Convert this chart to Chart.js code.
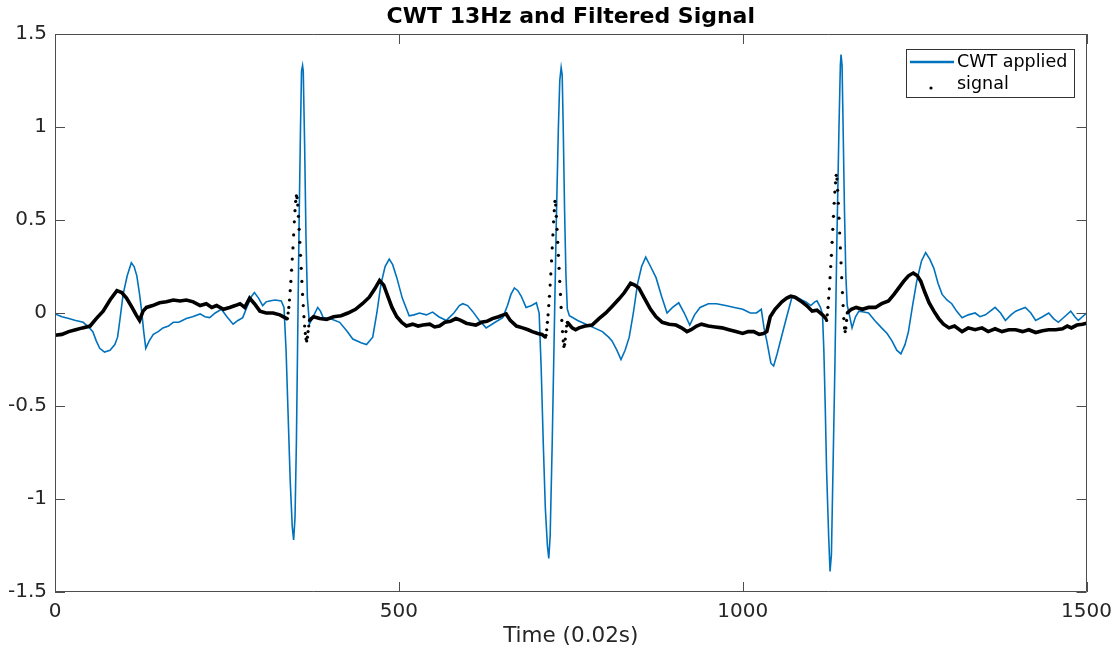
<!DOCTYPE html>
<html>
<head>
<meta charset="utf-8">
<script src="https://cdn.jsdelivr.net/npm/chart.js@4.4.1/dist/chart.umd.min.js"></script>
<style>
html,body{margin:0;padding:0;background:#fff;}
#c{display:block;}
</style>
</head>
<body>
<canvas id="c" width="1120" height="654"></canvas>
<script>
// ---- Data ----
const chartTitle = "CWT 13Hz and Filtered Signal";
const xTitle = "Time (0.02s)";
const xTicks = [0, 500, 1000, 1500];
const yTicks = [-1.5, -1, -0.5, 0, 0.5, 1, 1.5];

// CWT applied (time index, value)
const cwtT = [0,10,20,30,41,50,55,60,65,72,80,87,91,95,99,105,111,115,119,123,126,129,132,137,143,150,157,165,172,180,191,200,211,218,225,233,242,250,259,266,273,280,286,290,296,302,307,312,320,329,333,336,339,342,345,347,349,351,353,355,357,358.5,360,361,363,365,367,370,374,378,382,386,390,400,414,425,433,445,453,462,468,474,480,486,491,497,505,515,522,530,540,549,558,569,580,588,593,600,607,617,627,640,651,658,663,668,673,678,685,693,700,704,707,710,713,716,718,720,723,726,729,732,734,736,737.5,739,741,743,745,748,760,772,784,796,805,810,817,823,829,835,841,847,853,859,866,874,882,890,898,907,915,923,930,938,950,962,975,988,1000,1011,1020,1027,1031,1035,1041,1045,1050,1057,1064,1072,1079,1086,1092,1099,1105,1108,1113,1116,1118,1120,1122,1125,1127,1129,1131,1134,1137,1140,1142,1143,1144.5,1146,1148,1150,1152,1154,1159,1164,1169,1176,1183,1192,1202,1210,1217,1224,1230,1236,1241,1247,1253,1260,1266,1272,1278,1284,1290,1297,1304,1311,1319,1328,1338,1345,1353,1360,1367,1375,1382,1390,1397,1404,1411,1419,1426,1436,1445,1452,1459,1468,1477,1483,1488,1494,1500];
const cwtV = [-0.005,-0.02,-0.03,-0.04,-0.05,-0.08,-0.10,-0.15,-0.19,-0.21,-0.20,-0.17,-0.13,-0.02,0.10,0.20,0.27,0.25,0.20,0.10,0.01,-0.10,-0.19,-0.15,-0.115,-0.10,-0.08,-0.07,-0.05,-0.05,-0.03,-0.02,-0.005,-0.02,-0.025,0.0,0.02,-0.02,-0.06,-0.04,-0.025,0.04,0.09,0.11,0.08,0.04,0.06,0.065,0.07,0.065,0.03,-0.2,-0.55,-0.9,-1.15,-1.22,-1.10,-0.7,-0.1,0.5,1.0,1.30,1.33,1.30,0.9,0.4,0.08,-0.06,-0.03,0.0,0.03,0.01,-0.025,-0.03,-0.05,-0.10,-0.14,-0.16,-0.17,-0.13,0.0,0.155,0.25,0.29,0.26,0.19,0.08,-0.015,-0.01,0.0,-0.01,0.005,-0.02,-0.04,0.0,0.04,0.05,0.04,0.01,-0.04,-0.08,-0.05,-0.025,0.04,0.10,0.135,0.12,0.09,0.03,0.04,0.055,0.0,-0.3,-0.7,-1.05,-1.25,-1.32,-1.2,-0.7,-0.1,0.5,1.0,1.25,1.32,1.28,1.0,0.55,0.2,0.02,-0.015,-0.04,-0.06,-0.08,-0.1,-0.13,-0.15,-0.2,-0.25,-0.2,-0.13,0.0,0.155,0.25,0.30,0.25,0.19,0.09,0.0,0.03,0.055,0.0,-0.065,-0.01,0.03,0.05,0.05,0.04,0.03,0.02,0.0,0.0,0.02,-0.08,-0.15,-0.27,-0.285,-0.22,-0.12,-0.02,0.09,0.085,0.07,0.06,0.04,0.06,0.065,0.03,-0.005,-0.2,-0.5,-0.85,-1.2,-1.39,-1.3,-0.9,-0.3,0.4,1.0,1.33,1.39,1.33,1.0,0.55,0.2,0.04,0.01,-0.08,-0.02,0.01,0.005,0.0,-0.04,-0.08,-0.11,-0.15,-0.2,-0.22,-0.17,-0.1,0.04,0.17,0.28,0.325,0.29,0.24,0.16,0.10,0.07,0.05,0.01,-0.025,-0.01,0.0,-0.02,-0.01,0.01,0.03,0.0,-0.04,-0.01,0.01,0.02,0.03,0.0,-0.04,-0.02,0.0,-0.03,-0.05,-0.02,0.01,-0.02,-0.04,-0.02,0.0];

// signal: slow parts (time index, value)
const sigT = [0,10,20,30,40,51,60,70,80,90,97,104,112,118,123,128,133,142,152,162,172,182,191,201,211,220,228,235,245,254,262,269,276,283,290,298,307,317,327,337,
  376,385,395,405,416,426,437,447,457,465,472,478,484,490,497,504,511,520,528,535,545,552,559,567,575,583,590,598,605,612,620,628,636,645,652,656,662,671,680,688,694,702,708,
  752,757,762,771,781,791,801,810,820,828,837,843,849,857,866,874,883,893,903,911,919,925,933,940,950,960,970,980,990,1000,1008,1016,1024,1030,1035,1040,1047,1057,1064,1070,1076,1086,1093,1101,1108,1116,
  1158,1165,1174,1183,1193,1202,1212,1220,1227,1234,1241,1248,1254,1259,1265,1271,1278,1285,1292,1300,1308,1319,1328,1338,1348,1357,1367,1377,1387,1397,1407,1416,1426,1436,1445,1455,1465,1472,1478,1486,1494,1500];
const sigV = [-0.12,-0.115,-0.10,-0.09,-0.08,-0.07,-0.03,0.01,0.07,0.12,0.11,0.08,0.03,-0.01,-0.04,0.01,0.03,0.04,0.055,0.06,0.07,0.065,0.07,0.06,0.04,0.05,0.03,0.04,0.02,0.03,0.04,0.05,0.03,0.08,0.05,0.01,0.0,0.0,-0.01,-0.03,
  -0.02,-0.03,-0.035,-0.02,-0.015,0.0,0.02,0.05,0.085,0.13,0.175,0.15,0.09,0.03,-0.02,-0.05,-0.07,-0.06,-0.07,-0.065,-0.06,-0.075,-0.07,-0.05,-0.045,-0.03,-0.04,-0.055,-0.06,-0.065,-0.05,-0.045,-0.03,-0.02,-0.01,-0.005,-0.04,-0.07,-0.08,-0.09,-0.10,-0.11,-0.115,
  -0.08,-0.09,-0.08,-0.07,-0.065,-0.03,0.0,0.035,0.075,0.11,0.16,0.15,0.135,0.08,0.02,-0.02,-0.05,-0.06,-0.065,-0.08,-0.1,-0.09,-0.07,-0.06,-0.07,-0.075,-0.08,-0.09,-0.1,-0.11,-0.1,-0.1,-0.115,-0.11,-0.1,-0.02,0.02,0.06,0.08,0.09,0.085,0.06,0.04,0.01,0.015,-0.01,
  0.02,0.03,0.02,0.03,0.03,0.05,0.065,0.1,0.135,0.17,0.2,0.215,0.2,0.17,0.11,0.055,0.01,-0.03,-0.06,-0.08,-0.07,-0.1,-0.08,-0.09,-0.08,-0.1,-0.085,-0.1,-0.09,-0.09,-0.1,-0.09,-0.105,-0.095,-0.09,-0.09,-0.085,-0.07,-0.08,-0.065,-0.06,-0.055];

// signal: QRS bursts, one value per sample, starting at the given sample index
const qrsStarts = [338, 713, 1121];
const qrs1 = [-0.03,0.0,0.03,0.07,0.12,0.17,0.23,0.29,0.35,0.42,0.49,0.55,0.60,0.63,0.62,0.58,0.52,0.45,0.38,0.31,0.24,0.17,0.10,0.04,-0.02,-0.07,-0.11,-0.14,-0.15,-0.13,-0.10,-0.07,-0.04];
const qrs2 = [-0.13,-0.12,-0.09,-0.05,-0.01,0.04,0.09,0.15,0.21,0.28,0.35,0.42,0.49,0.55,0.60,0.58,0.52,0.45,0.38,0.31,0.24,0.17,0.10,0.03,-0.04,-0.10,-0.15,-0.18,-0.17,-0.14,-0.10,-0.07,-0.05];
const qrs3 = [-0.03,-0.04,-0.01,0.03,0.08,0.13,0.19,0.25,0.31,0.38,0.45,0.52,0.59,0.65,0.70,0.74,0.72,0.66,0.59,0.51,0.43,0.35,0.27,0.19,0.11,0.04,-0.03,-0.08,-0.10,-0.08,-0.04,0.0];

// ---- Build datasets ----
const cwtData = cwtT.map((t, i) => ({x: t, y: cwtV[i]}));
const sigData = [];
sigT.forEach((t, i) => sigData.push({x: t, y: sigV[i], q: false}));
[qrs1, qrs2, qrs3].forEach((arr, k) => arr.forEach((v, j) => sigData.push({x: qrsStarts[k] + j, y: v, q: true})));
sigData.sort((a, b) => a.x - b.x);

const TXT = '#262626';
const AX = '#4d4d4d';
const FONT = "'DejaVu Sans', sans-serif";

const frame = {
  id: 'frame',
  afterDraw(chart) {
    const {ctx, chartArea: a, scales} = chart;
    const xs = scales.x, ys = scales.y;
    ctx.save();
    ctx.strokeStyle = AX;
    ctx.lineWidth = 1;
    ctx.beginPath();
    ctx.rect(Math.round(a.left) + 0.5, Math.round(a.top) + 0.5, Math.round(a.width) - 1, Math.round(a.height) - 1);
    ctx.stroke();
    const tl = 10;
    ctx.beginPath();
    xTicks.forEach(v => {
      const p = Math.round(xs.getPixelForValue(v)) + 0.5;
      ctx.moveTo(p, a.bottom); ctx.lineTo(p, a.bottom - tl);
      ctx.moveTo(p, a.top); ctx.lineTo(p, a.top + tl);
    });
    yTicks.forEach(v => {
      const p = Math.round(ys.getPixelForValue(v)) + 0.5;
      ctx.moveTo(a.left, p); ctx.lineTo(a.left + tl, p);
      ctx.moveTo(a.right, p); ctx.lineTo(a.right - tl, p);
    });
    ctx.stroke();

    // legend box (MATLAB style, inside top right)
    const bx = 906.5, by = 49.5, bw = 168, bh = 48;
    ctx.fillStyle = '#fff';
    ctx.fillRect(bx, by, bw, bh);
    ctx.strokeStyle = '#333';
    ctx.strokeRect(bx, by, bw, bh);
    const ds = chart.data.datasets;
    const cwtDs = ds.find(d => d.label === 'CWT applied');
    const sigDs = ds.find(d => d.label === 'signal');
    ctx.strokeStyle = cwtDs.borderColor;
    ctx.lineWidth = 2.5;
    ctx.beginPath(); ctx.moveTo(910, 62); ctx.lineTo(954, 62); ctx.stroke();
    ctx.fillStyle = '#000';
    ctx.beginPath(); ctx.arc(931, 88, 1.6, 0, Math.PI * 2); ctx.fill();
    ctx.fillStyle = '#000';
    ctx.font = "17.5px " + FONT;
    ctx.textBaseline = 'middle';
    ctx.textAlign = 'left';
    ctx.fillText(cwtDs.label, 957, 62);
    ctx.fillText(sigDs.label, 957, 84);
    ctx.restore();
  }
};

new Chart(document.getElementById('c'), {
  type: 'line',
  data: {
    datasets: [
      {
        label: 'signal',
        data: sigData,
        order: 1,
        borderColor: '#000',
        borderWidth: 3.6,
        pointRadius: c => (c.raw && c.raw.q) ? 1.6 : 0,
        pointHoverRadius: 0,
        pointBackgroundColor: '#000',
        pointBorderWidth: 0,
        tension: 0,
        segment: {
          borderColor: c => (sigData[c.p0DataIndex].q && sigData[c.p1DataIndex].q) ? 'rgba(0,0,0,0)' : '#000'
        }
      },
      {
        label: 'CWT applied',
        data: cwtData,
        order: 2,
        borderColor: '#0072BD',
        borderWidth: 1.6,
        pointRadius: 0,
        tension: 0
      }
    ]
  },
  options: {
    responsive: false,
    animation: false,
    devicePixelRatio: 1,
    layout: {padding: {left: 0, right: 32, top: 0, bottom: 0}},
    plugins: {
      legend: {display: false},
      tooltip: {enabled: false},
      title: {
        display: true,
        text: chartTitle,
        fullSize: false,
        color: '#000',
        font: {family: FONT, size: 22, weight: 'bold', lineHeight: 1.2},
        padding: {top: 4, bottom: 3.6}
      }
    },
    scales: {
      x: {
        type: 'linear',
        min: 0, max: 1500,
        grid: {display: false, drawTicks: false},
        border: {display: false},
        afterBuildTicks: s => { s.ticks = xTicks.map(v => ({value: v})); },
        afterFit: s => { s.height = 62; },
        ticks: {color: TXT, padding: 8, maxRotation: 0, font: {family: FONT, size: 20}, callback: v => String(v)},
        title: {display: true, text: xTitle, color: TXT, padding: {top: 0, bottom: 5}, font: {family: FONT, size: 21.5, lineHeight: 1.2}}
      },
      y: {
        type: 'linear',
        min: -1.5, max: 1.5,
        grid: {display: false, drawTicks: false},
        border: {display: false},
        afterBuildTicks: s => { s.ticks = yTicks.map(v => ({value: v})); },
        afterFit: s => { s.width = 55; },
        ticks: {color: TXT, padding: 8, font: {family: FONT, size: 20}, callback: v => String(v)}
      }
    }
  },
  plugins: [frame]
});
</script>
</body>
</html>
